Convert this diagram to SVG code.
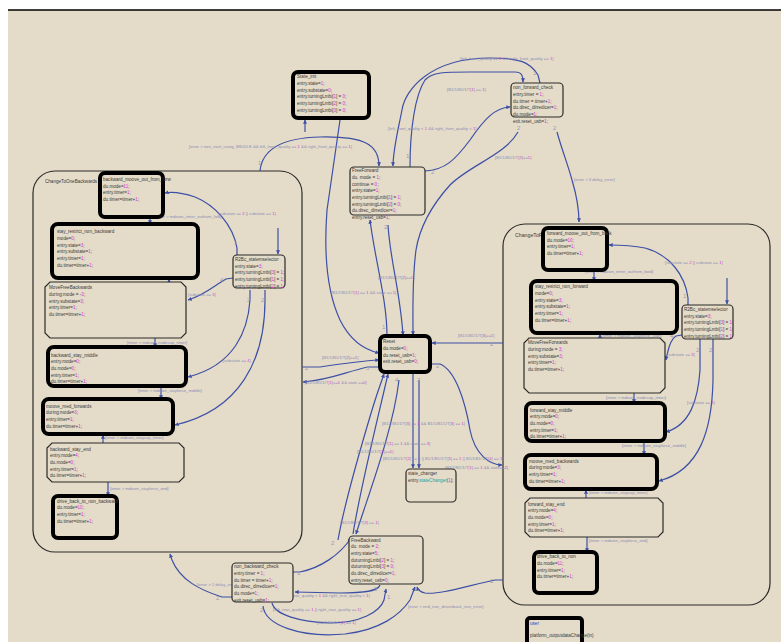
<svg xmlns="http://www.w3.org/2000/svg" width="781" height="642" viewBox="0 0 781 642">
<defs>
<marker id="ah" viewBox="0 0 6 6" refX="5.5" refY="3" markerWidth="4" markerHeight="4" orient="auto" markerUnits="userSpaceOnUse"><path d="M0,0 L6,3 L0,6 z" fill="#3d4fa6"/></marker>
</defs>
<style>
text{font-family:"Liberation Sans",Arial,sans-serif}
.n{font-size:4.6px;fill:#3a3a3a}
.v{fill:#e030e0}
.tl{fill:#1fa0a0}
.t{font-size:4.2px;fill:#8c8cb8}
.p{font-size:6px;fill:#9a9ab0}
.c{fill:none;stroke:#3d4fa6;stroke-width:1.2;marker-end:url(#ah)}
.thick{fill:#e4dcc8;stroke:#000;stroke-width:4}
.thin{fill:#e4dcc8;stroke:#2a2a2a;stroke-width:1.2}
.sup{fill:none;stroke:#2a2a2a;stroke-width:1.2}
</style>
<rect x="0" y="0" width="781" height="642" fill="#ffffff"/>
<rect x="8" y="10" width="773" height="632" fill="#e4dcc8"/>
<line x1="8" y1="10" x2="781" y2="10" stroke="#000" stroke-width="1.5"/>

<g id="super_left"><rect class="sup" x="33" y="171" width="269" height="381" rx="22"/><text class="n" x="45" y="183">ChangeToOneBackwards</text></g>
<g id="super_right"><rect class="sup" x="503" y="224" width="267" height="381" rx="22"/><text class="n" x="515" y="237" textLength="27" lengthAdjust="spacingAndGlyphs">ChangeToF</text></g>

<g id="connectors">
<path class="c" d="M260,171 C262,150 280,138 320,137 C365,136 379,145 379,166"/>
<path class="c" d="M305,132 L305,120"/>
<path class="c" d="M340,120 L327,210 C324,250 326,290 340,320 C350,340 365,350 379,353"/>
<path class="c" d="M540,83 L538,75 C530,62 520,58 490,58 C430,58 405,90 402,110 C398,130 393,150 393,166"/>
<path class="c" d="M410,167 C410,130 415,95 425,80 C432,72 445,72 470,72 L515,72 C522,72 523,76 523,82"/>
<path class="c" d="M425,171 C445,170 455,160 470,140 C485,118 495,108 510,107"/>
<path class="c" d="M518,132 C505,155 470,165 450,185 C432,205 420,225 416,250 C412,280 413,310 413,335"/>
<path class="c" d="M557,132 C562,150 568,165 572,180 C578,200 579,210 579,222"/>
<path class="c" d="M387,336 C387,300 375,260 370,220"/>
<path class="c" d="M388,225 C390,260 400,290 403,335"/>
<path class="c" d="M503,343 L432,343"/>
<path class="c" d="M432,364 L440,364 C455,370 465,400 470,430 C475,455 490,465 502,465"/>
<path class="c" d="M302,367 L320,367 C340,364 360,361 379,360"/>
<path class="c" d="M380,367 L368,367 C345,372 330,380 303,382"/>
<path class="c" d="M338,540 C345,500 360,450 372,410 C378,390 382,380 384,374"/>
<path class="c" d="M353,534 C360,490 375,430 388,374"/>
<path class="c" d="M399,380 C393,430 370,490 356,534"/>
<path class="c" d="M413,373 L413,468"/>
<path class="c" d="M419,380 L419,468"/>
<path class="c" d="M380,585 C378,592 360,593 340,593 L295,592"/>
<path class="c" d="M293,572 L300,572 C320,568 340,555 351,538"/>
<path class="c" d="M272,603 C275,615 300,622 330,623 C360,623 380,612 384,600 L386,589"/>
<path class="c" d="M263,606 C265,625 300,638 345,634 C380,630 400,615 410,600 L415,587"/>
<path class="c" d="M503,580 L495,580 C470,585 440,595 425,593 C420,592 418,590 417,587"/>
<path class="c" d="M232,597 L222,597 C200,590 180,580 172,560 L170,554"/>
<path class="c" d="M278,228 L278,254"/>
<path class="c" d="M237,255 L237,248 C233,225 215,205 195,197 C180,192 170,192 165,193"/>
<path class="c" d="M150,217 L150,224"/>
<path class="c" d="M169,283 L169,279"/>
<path class="c" d="M233,278 L226,279 C215,285 205,295 188,300"/>
<path class="c" d="M250,290 L250,300 C248,330 235,365 188,377"/>
<path class="c" d="M265,290 L265,300 C265,360 240,410 175,425"/>
<path class="c" d="M155,338 L155,347"/>
<path class="c" d="M161,386 L161,399"/>
<path class="c" d="M103,443 L103,435"/>
<path class="c" d="M108,482 L108,496"/>
<path class="c" d="M727,278 L727,304"/>
<path class="c" d="M688,305 L688,298 C685,275 670,255 645,248 C630,245 615,245 609,245"/>
<path class="c" d="M594,270 L594,281"/>
<path class="c" d="M600,338 L600,334"/>
<path class="c" d="M682,335 L676,336 C670,340 668,350 666,360"/>
<path class="c" d="M634,393 L634,403"/>
<path class="c" d="M700,339 L700,370 C698,400 690,425 666,432"/>
<path class="c" d="M713,339 L713,380 C712,430 700,470 659,481"/>
<path class="c" d="M644,441 L644,455"/>
<path class="c" d="M586,498 L586,490"/>
<path class="c" d="M587,537 L587,552"/>
</g>

<g id="labels">
<text class="t" x="189" y="148">[error &gt; non_start_using_MIDDLE &amp;&amp; left_front_quality == <tspan class="v">1</tspan> &amp;&amp; right_front_quality == <tspan class="v">1</tspan>]</text>
<text class="t" x="460" y="60">[left_front_quality == <tspan class="v">1</tspan> &amp;&amp; right_front_quality == <tspan class="v">1</tspan>]</text>
<text class="t" x="447" y="91">[B1/1/B1/1/T[<tspan class="v">1</tspan>] == <tspan class="v">1</tspan>]</text>
<text class="t" x="388" y="130">[left_front_quality &lt; <tspan class="v">1</tspan> &amp;&amp; right_front_quality &lt; <tspan class="v">1</tspan>]</text>
<text class="t" x="495" y="159">[B1/1/B1/1/T[<tspan class="v">2</tspan>]==<tspan class="v">1</tspan>]</text>
<text class="t" x="574" y="181">[error &gt; 3 delay_error]</text>
<text class="t" x="331" y="294">[B1/1/B1/1/T[<tspan class="v">1</tspan>] == <tspan class="v">1</tspan> &amp;&amp; state == <tspan class="v">1</tspan>]</text>
<text class="t" x="378" y="279">[B1/1/B1/1/T[<tspan class="v">2</tspan>]==<tspan class="v">1</tspan>]</text>
<text class="t" x="458" y="337">[B1/1/B1/1/T[<tspan class="v">3</tspan>]==<tspan class="v">1</tspan>]</text>
<text class="t" x="322" y="359">[B1/1/B1/1/T[<tspan class="v">2</tspan>]==<tspan class="v">1</tspan>]</text>
<text class="t" x="305" y="384">[B1/1/B1/1/T[<tspan class="v">1</tspan>]==<tspan class="v">1</tspan> &amp;&amp; state ==<tspan class="v">0</tspan>]</text>
<text class="t" x="382" y="425">[B1/1/B1/1/T[<tspan class="v">3</tspan>] == <tspan class="v">1</tspan> &amp;&amp; B1/1/B1/1/T[<tspan class="v">3</tspan>] == <tspan class="v">1</tspan>]</text>
<text class="t" x="365" y="445">[B1/1/B1/1/T[<tspan class="v">1</tspan>] == <tspan class="v">1</tspan> &amp;&amp; state == <tspan class="v">3</tspan>]</text>
<text class="t" x="357" y="453">[B1/1/B1/1/T[<tspan class="v">2</tspan>]==<tspan class="v">1</tspan>]</text>
<text class="t" x="383" y="460">[B1/1/B1/1/T[<tspan class="v">2</tspan>] == <tspan class="v">1</tspan> || B1/1/B1/1/T[<tspan class="v">3</tspan>] == <tspan class="v">1</tspan> || B1/1/B1/1/T[<tspan class="v">4</tspan>] == <tspan class="v">1</tspan>]</text>
<text class="t" x="445" y="469">[B1/1/B1/1/T[<tspan class="v">1</tspan>] == <tspan class="v">1</tspan> &amp;&amp; state==<tspan class="v">2</tspan>]</text>
<text class="t" x="340" y="524">[B1/1/B1/1/T[<tspan class="v">3</tspan>] == <tspan class="v">1</tspan>]</text>
<text class="t" x="283" y="597">[left_rear_quality &lt; <tspan class="v">1</tspan> &amp;&amp; right_rear_quality &lt; <tspan class="v">1</tspan>]</text>
<text class="t" x="273" y="611">[left_rear_quality == <tspan class="v">1</tspan> || right_rear_quality == <tspan class="v">1</tspan>]</text>
<text class="t" x="317" y="624">[B1/1/B1/1/T[<tspan class="v">2</tspan>] == <tspan class="v">1</tspan>]</text>
<text class="t" x="408" y="608">[error &gt; end_non_drivenback_non_error]</text>
<text class="t" x="197" y="586">[error &gt; 1 delay_error]</text>
<text class="t" x="218" y="215">[substate == <tspan class="v">2</tspan> || substate == <tspan class="v">1</tspan>]</text>
<text class="t" x="155" y="218">[error &gt; mdown_timer_outfrom_fwd]</text>
<text class="t" x="133" y="271">[timer &gt; mdown_stayforce_start]</text>
<text class="t" x="188" y="296">[substate == <tspan class="v">3</tspan>]</text>
<text class="t" x="223" y="362">[substate == <tspan class="v">4</tspan>]</text>
<text class="t" x="127" y="344">[timer &gt; mdown_nodecap_timer]</text>
<text class="t" x="138" y="392">[timer &gt; mdown_stayforce_middle]</text>
<text class="t" x="105" y="439">[timer &gt; mdown_staycap_timer]</text>
<text class="t" x="110" y="490">[timer &gt; mdown_stayforce_end]</text>
<text class="t" x="665" y="264">[substate == <tspan class="v">2</tspan> || substate == <tspan class="v">1</tspan>]</text>
<text class="t" x="585" y="273">[timer &gt; mdown_timer_outfrom_bwd]</text>
<text class="t" x="602" y="337">[timer &gt; mdown_stayforce_start]</text>
<text class="t" x="667" y="356">[substate == <tspan class="v">3</tspan>]</text>
<text class="t" x="606" y="399">[timer &gt; mdown_nodecap_timer]</text>
<text class="t" x="687" y="404">[substate == <tspan class="v">4</tspan>]</text>
<text class="t" x="622" y="447">[timer &gt; mdown_stayforce_middle]</text>
<text class="t" x="589" y="494">[timer &gt; mdown_staycap_timer]</text>
<text class="t" x="589" y="542">[timer &gt; mdown_stayforce_end]</text>
<text class="p" x="258" y="165">1</text>
<text class="p" x="533" y="75">1</text>
<text class="p" x="406" y="158">1</text>
<text class="p" x="431" y="174">2</text>
<text class="p" x="517" y="130">2</text>
<text class="p" x="553" y="130">2</text>
<text class="p" x="382" y="329">1</text>
<text class="p" x="384" y="229">2</text>
<text class="p" x="490" y="346">2</text>
<text class="p" x="436" y="368">2</text>
<text class="p" x="305" y="370">2</text>
<text class="p" x="366" y="370">5</text>
<text class="p" x="395" y="382">4</text>
<text class="p" x="417" y="382">2</text>
<text class="p" x="331" y="545">2</text>
<text class="p" x="374" y="591">2</text>
<text class="p" x="387" y="599">1</text>
<text class="p" x="297" y="575">1</text>
<text class="p" x="490" y="583">1</text>
<text class="p" x="216" y="600">2</text>
<text class="p" x="234" y="245">1</text>
<text class="p" x="220" y="282">4</text>
<text class="p" x="247" y="302">2</text>
<text class="p" x="261" y="302">2</text>
<text class="p" x="683" y="298">1</text>
<text class="p" x="670" y="338">4</text>
<text class="p" x="696" y="352">2</text>
<text class="p" x="709" y="352">2</text>
<text class="p" x="260" y="612">2</text>
</g>

<g id="State_init"><rect class="thick" x="293" y="72" width="76" height="46" rx="5"/><text class="n" x="297" y="78.3">State_init<tspan x="297" dy="6.67">entry.state=<tspan class="v">1</tspan>;</tspan><tspan x="297" dy="6.67">entry.substate=<tspan class="v">0</tspan>;</tspan><tspan x="297" dy="6.67">entry.turningLmbi[<tspan class="v">1</tspan>] = <tspan class="v">0</tspan>;</tspan><tspan x="297" dy="6.67">entry.turningLmbi[<tspan class="v">2</tspan>] = <tspan class="v">0</tspan>;</tspan><tspan x="297" dy="6.67">entry.turningLmbi[<tspan class="v">3</tspan>] = <tspan class="v">0</tspan>;</tspan></text></g>

<g id="non_forward_check"><rect class="thin" x="511" y="83" width="52" height="34" rx="4"/><text class="n" x="513" y="89.3">non_forward_check<tspan x="513" dy="6.67">entry.timer = <tspan class="v">1</tspan>;</tspan><tspan x="513" dy="6.67">du.timer = timer+<tspan class="v">1</tspan>;</tspan><tspan x="513" dy="6.67">du.direc_dirredicer=<tspan class="v">1</tspan>;</tspan><tspan x="513" dy="6.67">du.mode=<tspan class="v">1</tspan>;</tspan><tspan x="513" dy="6.67">exit.reset_usb=<tspan class="v">1</tspan>;</tspan></text></g>

<g id="FreeForward"><rect class="thin" x="350" y="167" width="75" height="48" rx="4"/><text class="n" x="352" y="172.3">FreeForward<tspan x="352" dy="6.67">du. mode = <tspan class="v">1</tspan>;</tspan><tspan x="352" dy="6.67">continue = <tspan class="v">0</tspan>;</tspan><tspan x="352" dy="6.67">entry.state=<tspan class="v">1</tspan>;</tspan><tspan x="352" dy="6.67">entry.turningLmbi[<tspan class="v">1</tspan>] = <tspan class="v">1</tspan>;</tspan><tspan x="352" dy="6.67">entry.turningLmbi[<tspan class="v">2</tspan>] = <tspan class="v">0</tspan>;</tspan><tspan x="352" dy="6.67">du.direc_dirredicer=<tspan class="v">1</tspan>;</tspan><tspan x="352" dy="6.67">entry.reset_usb=<tspan class="v">1</tspan>;</tspan></text></g>

<g id="Reset"><rect class="thick" x="380" y="336" width="50" height="36" rx="5"/><text class="n" x="383" y="343.3">Reset<tspan x="383" dy="6.67">du.mode=<tspan class="v">0</tspan>;</tspan><tspan x="383" dy="6.67">du.reset_usb=<tspan class="v">1</tspan>;</tspan><tspan x="383" dy="6.67">exit.reset_usb=<tspan class="v">0</tspan>;</tspan></text></g>

<g id="state_changer"><rect class="thin" x="406" y="469" width="50" height="33" rx="4"/><text class="n" x="408" y="475">state_changer<tspan x="408" dy="6.67">entry.<tspan class="tl">stateChanger</tspan>(<tspan class="v">1</tspan>);</tspan></text></g>

<g id="FreeBackward"><rect class="thin" x="349" y="536" width="74" height="48" rx="4"/><text class="n" x="351" y="541.6">FreeBackward<tspan x="351" dy="6.67">du. mode = <tspan class="v">2</tspan>;</tspan><tspan x="351" dy="6.67">entry.state=<tspan class="v">5</tspan>;</tspan><tspan x="351" dy="6.67">duturningLmbi[<tspan class="v">2</tspan>] = <tspan class="v">1</tspan>;</tspan><tspan x="351" dy="6.67">duturningLmbi[<tspan class="v">3</tspan>] = <tspan class="v">0</tspan>;</tspan><tspan x="351" dy="6.67">du.direc_dirredicer=<tspan class="v">1</tspan>;</tspan><tspan x="351" dy="6.67">entry.reset_usb=<tspan class="v">0</tspan>;</tspan></text></g>

<g id="non_backward_check"><rect class="thin" x="232" y="563" width="61" height="39" rx="4"/><text class="n" x="234" y="568.3">non_backward_check<tspan x="234" dy="6.67">entry.timer = <tspan class="v">1</tspan>;</tspan><tspan x="234" dy="6.67">du.timer = timer+<tspan class="v">1</tspan>;</tspan><tspan x="234" dy="6.67">du.direc_dirredicer=<tspan class="v">1</tspan>;</tspan><tspan x="234" dy="6.67">du.mode=<tspan class="v">1</tspan>;</tspan><tspan x="234" dy="6.67">exit.reset_usb=<tspan class="v">1</tspan>;</tspan></text></g>

<g id="backward_moove_out_from_forward"><rect class="thick" x="100" y="173" width="63" height="44" rx="5"/><text class="n" x="103" y="181">backward_moove_out_from_forw<tspan x="103" dy="6.5">du.mode=<tspan class="v">11</tspan>;</tspan><tspan x="103" dy="6.5">entry.timer=<tspan class="v">1</tspan>;</tspan><tspan x="103" dy="6.5">du.timer=timer+<tspan class="v">1</tspan>;</tspan></text></g>

<g id="stay_restrict_non_backward"><rect class="thick" x="52" y="224" width="146" height="54" rx="6"/><text class="n" x="57" y="233.3">stay_restrict_non_backward<tspan x="57" dy="6.67">mode=<tspan class="v">0</tspan>;</tspan><tspan x="57" dy="6.67">entry.state=<tspan class="v">3</tspan>;</tspan><tspan x="57" dy="6.67">entry.substate=<tspan class="v">1</tspan>;</tspan><tspan x="57" dy="6.67">entry.timer=<tspan class="v">1</tspan>;</tspan><tspan x="57" dy="6.67">du.timer=timer+<tspan class="v">1</tspan>;</tspan></text></g>

<g id="MoveFreeBackwards"><polygon class="thin" points="50,282 181,282 186,287 186,333 181,338 50,338 45,333 45,287"/><text class="n" x="49" y="289.3">MoveFreeBackwards<tspan x="49" dy="6.67">during:mode = -<tspan class="v">3</tspan>;</tspan><tspan x="49" dy="6.67">entry.substate=<tspan class="v">3</tspan>;</tspan><tspan x="49" dy="6.67">entry.timer=<tspan class="v">1</tspan>;</tspan><tspan x="49" dy="6.67">du.timer=timer+<tspan class="v">1</tspan>;</tspan></text></g>

<g id="backward_stay_middle"><rect class="thick" x="48" y="347" width="138" height="39" rx="6"/><text class="n" x="51" y="356.6">backward_stay_middle<tspan x="51" dy="6.67">entry.mode=<tspan class="v">0</tspan>;</tspan><tspan x="51" dy="6.67">du.mode=<tspan class="v">0</tspan>;</tspan><tspan x="51" dy="6.67">entry.timer=<tspan class="v">1</tspan>;</tspan><tspan x="51" dy="6.67">du.timer=timer+<tspan class="v">1</tspan>;</tspan></text></g>

<g id="moove_med_forwards"><rect class="thick" x="43" y="399" width="130" height="35" rx="6"/><text class="n" x="46" y="407.6">moove_med_forwards<tspan x="46" dy="6.67">during:mode=<tspan class="v">3</tspan>;</tspan><tspan x="46" dy="6.67">entry.timer=<tspan class="v">1</tspan>;</tspan><tspan x="46" dy="6.67">du.timer=timer+<tspan class="v">1</tspan>;</tspan></text></g>

<g id="backward_stay_end"><polygon class="thin" points="52,443 179,443 184,448 184,477 179,482 52,482 47,477 47,448"/><text class="n" x="50" y="450.6">backward_stay_end<tspan x="50" dy="6.67">entry.mode=<tspan class="v">4</tspan>;</tspan><tspan x="50" dy="6.67">du.mode=<tspan class="v">0</tspan>;</tspan><tspan x="50" dy="6.67">entry.timer=<tspan class="v">1</tspan>;</tspan><tspan x="50" dy="6.67">du.timer=timer+<tspan class="v">1</tspan>;</tspan></text></g>

<g id="drive_back_to_non_backward"><rect class="thick" x="53" y="496" width="64" height="42" rx="5"/><text class="n" x="57" y="502.6">drive_back_to_non_backward<tspan x="57" dy="6.67">du.mode=<tspan class="v">10</tspan>;</tspan><tspan x="57" dy="6.67">entry.timer=<tspan class="v">1</tspan>;</tspan><tspan x="57" dy="6.67">du.timer=timer+<tspan class="v">1</tspan>;</tspan></text></g>

<g id="R2Bc_statemselector_left"><rect class="thin" x="233" y="255" width="52" height="33" rx="4"/><text class="n" x="235" y="261">R2Bc_statemselector<tspan x="235" dy="6.67">entry.state=<tspan class="v">3</tspan>;</tspan><tspan x="235" dy="6.67">entry.turningLmbi[<tspan class="v">3</tspan>] = <tspan class="v">1</tspan>;</tspan><tspan x="235" dy="6.67">entry.turningLmbi[<tspan class="v">1</tspan>] = <tspan class="v">1</tspan>;</tspan><tspan x="235" dy="6.67">entry.turningLmbi[<tspan class="v">2</tspan>] = <tspan class="v">1</tspan>;</tspan></text></g>

<g id="forward_moove_out_from_back"><rect class="thick" x="543" y="228" width="64" height="42" rx="5"/><text class="n" x="547" y="235">forward_moove_out_from_back<tspan x="547" dy="6.67">du.mode=<tspan class="v">10</tspan>;</tspan><tspan x="547" dy="6.67">entry.timer=<tspan class="v">1</tspan>;</tspan><tspan x="547" dy="6.67">du.timer=timer+<tspan class="v">1</tspan>;</tspan></text></g>

<g id="stay_restrict_non_forward"><rect class="thick" x="531" y="281" width="146" height="52" rx="6"/><text class="n" x="535" y="288.3">stay_restrict_non_forward<tspan x="535" dy="6.67">mode=<tspan class="v">0</tspan>;</tspan><tspan x="535" dy="6.67">entry.state=<tspan class="v">3</tspan>;</tspan><tspan x="535" dy="6.67">entry.substate=<tspan class="v">1</tspan>;</tspan><tspan x="535" dy="6.67">entry.timer=<tspan class="v">1</tspan>;</tspan><tspan x="535" dy="6.67">du.timer=timer+<tspan class="v">1</tspan>;</tspan></text></g>

<g id="MoveFreeForwards"><polygon class="thin" points="529,338 660,338 665,343 665,388 660,393 529,393 524,388 524,343"/><text class="n" x="528" y="344.3">MoveFreeForwards<tspan x="528" dy="6.67">during:mode = <tspan class="v">3</tspan>;</tspan><tspan x="528" dy="6.67">entry.substate=<tspan class="v">3</tspan>;</tspan><tspan x="528" dy="6.67">entry.timer=<tspan class="v">1</tspan>;</tspan><tspan x="528" dy="6.67">du.timer=timer+<tspan class="v">1</tspan>;</tspan></text></g>

<g id="forward_stay_middle"><rect class="thick" x="526" y="403" width="139" height="38" rx="6"/><text class="n" x="530" y="411.6">forward_stay_middle<tspan x="530" dy="6.67">entry.mode=<tspan class="v">0</tspan>;</tspan><tspan x="530" dy="6.67">du.mode=<tspan class="v">0</tspan>;</tspan><tspan x="530" dy="6.67">entry.timer=<tspan class="v">1</tspan>;</tspan><tspan x="530" dy="6.67">du.timer=timer+<tspan class="v">1</tspan>;</tspan></text></g>

<g id="moove_med_backwards"><rect class="thick" x="525" y="455" width="132" height="34" rx="6"/><text class="n" x="529" y="462.6">moove_med_backwards<tspan x="529" dy="6.67">during:mode=<tspan class="v">3</tspan>;</tspan><tspan x="529" dy="6.67">entry.timer=<tspan class="v">1</tspan>;</tspan><tspan x="529" dy="6.67">du.timer=timer+<tspan class="v">1</tspan>;</tspan></text></g>

<g id="forward_stay_end"><polygon class="thin" points="530,498 658,498 663,503 663,532 658,537 530,537 525,532 525,503"/><text class="n" x="528" y="505.6">forward_stay_end<tspan x="528" dy="6.67">entry.mode=<tspan class="v">4</tspan>;</tspan><tspan x="528" dy="6.67">du.mode=<tspan class="v">0</tspan>;</tspan><tspan x="528" dy="6.67">entry.timer=<tspan class="v">1</tspan>;</tspan><tspan x="528" dy="6.67">du.timer=timer+<tspan class="v">1</tspan>;</tspan></text></g>

<g id="drive_back_to_non"><rect class="thick" x="534" y="552" width="63" height="41" rx="5"/><text class="n" x="537" y="558.3">drive_back_to_non<tspan x="537" dy="6.67">du.mode=<tspan class="v">11</tspan>;</tspan><tspan x="537" dy="6.67">entry.timer=<tspan class="v">1</tspan>;</tspan><tspan x="537" dy="6.67">du.timer=timer+<tspan class="v">1</tspan>;</tspan></text></g>

<g id="R2Bc_statemselector_right"><rect class="thin" x="682" y="305" width="51" height="34" rx="4"/><text class="n" x="684" y="311">R2Bc_statemselector<tspan x="684" dy="6.67">entry.state=<tspan class="v">3</tspan>;</tspan><tspan x="684" dy="6.67">entry.turningLmbi[<tspan class="v">3</tspan>] = <tspan class="v">1</tspan>;</tspan><tspan x="684" dy="6.67">entry.turningLmbi[<tspan class="v">1</tspan>] = <tspan class="v">1</tspan>;</tspan><tspan x="684" dy="6.67">entry.turningLmbi[<tspan class="v">2</tspan>] = <tspan class="v">1</tspan>;</tspan></text></g>

<g id="user"><rect class="thick" x="527" y="618" width="55" height="32" rx="3"/><text class="n" x="530" y="624.6" style="fill:#3040d0">user</text><text class="n" x="530" y="636.6">platform_outputdataChange(in)</text></g>
</svg>
